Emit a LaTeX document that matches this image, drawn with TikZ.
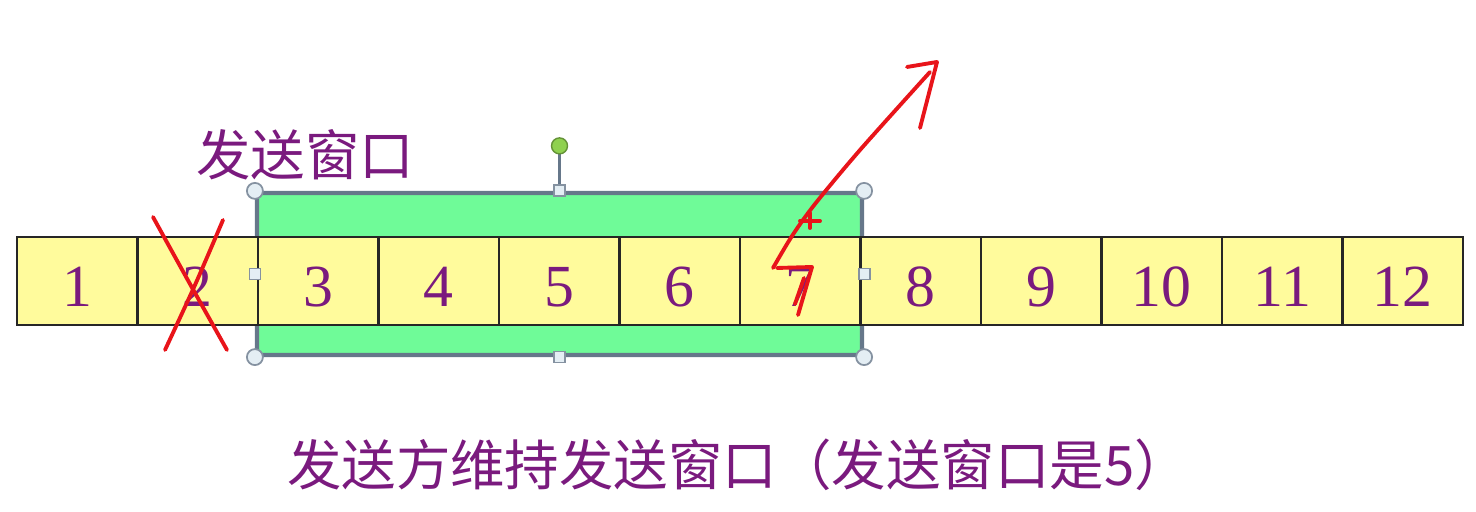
\documentclass[tikz,border=0pt]{standalone}
\usepackage{xcolor}
\usepackage{tikz}
\usepackage{fontspec}
\setmainfont{Liberation Serif}
\newfontfamily\cjk{Noto Sans CJK SC}
\definecolor{winpurple}{HTML}{7A1A7E}
\definecolor{cellyellow}{HTML}{FFFB9C}
\definecolor{wingreen}{HTML}{6FFB98}
\definecolor{winedge}{HTML}{66778A}
\definecolor{handlefill}{HTML}{E4EEF4}
\definecolor{rotgreen}{HTML}{8FD14F}
\definecolor{penred}{HTML}{E8141A}
\tikzset{
  cell/.style={draw=black!85,line width=0.6pt,fill=cellyellow,minimum width=1.205cm,
    minimum height=0.88cm,inner sep=0pt,text=winpurple,font=\fontsize{17}{20}\selectfont,
    text height=0.52cm,text depth=0cm},
  window/.style={draw=winedge,line width=1.2pt,fill=wingreen,rounded corners=1pt,
    minimum width=6.05cm,minimum height=1.62cm,inner sep=0pt},
  cornerhandle/.style={draw=winedge!80,fill=handlefill,line width=0.5pt},
  sidehandle/.style={draw=winedge!80,fill=handlefill,line width=0.5pt,minimum size=0.11cm,inner sep=0pt},
  pen/.style={penred,line width=1.1pt,line cap=round,line join=round},
  cjklabel/.style={text=winpurple,font=\cjk\fontsize{15.5}{18}\selectfont,inner sep=0pt}
}

\begin{document}
\begin{tikzpicture}[x=1cm,y=1cm]
  \useasboundingbox (0,0) rectangle (14.76,5.12);
  % send window behind the cells
  \node[window] (win) at (5.595,2.38) {};
  \foreach \i in {1,...,12}
    \node[cell] (c\i) at ({0.17+1.205*(\i-0.5)},2.31) {\i};
  % selection handles
  \coordinate (rot) at ([yshift=0.45cm]win.north);
  \draw[winedge,line width=0.6pt] (win.north) -- (rot);
  \fill[rotgreen,draw=rotgreen!70!black,line width=0.4pt] (rot) circle[radius=0.08cm];
  \foreach \a in {north west,north east,south west,south east}
    \draw[cornerhandle] (win.\a) circle[radius=0.08cm];
  \foreach \a/\n in {north/hn,south/hs,west/hw,east/he}
    \node[sidehandle] (\n) at (win.\a) {};
  % red pen marks
  \draw[pen] plot[smooth] coordinates {(1.53,2.95) (1.90,2.28) (2.27,1.62)};
  \draw[pen] plot[smooth] coordinates {(2.23,2.92) (1.95,2.27) (1.65,1.62)};
  \draw[pen] (7.77,2.44) -- (8.12,2.45) -- (7.98,1.97);
  \draw[pen] (8.04,2.34) -- (7.95,2.08);
  \draw[pen] plot[smooth] coordinates {(7.73,2.44) (7.92,2.76) (8.15,3.08) (8.60,3.62) (9.30,4.40)};
  \draw[pen] (9.07,4.45) -- (9.37,4.50) -- (9.20,3.84);
  \draw[pen] (8.00,2.91) -- (8.20,2.91);
  \draw[pen] (8.10,2.99) -- (8.10,2.84);
  % labels
  \node[cjklabel] (winlabel) at (3.05,3.57) {发送窗口};
  \node[cjklabel] (caption) at (7.38,0.47) {发送方维持发送窗口（发送窗口是5）};
\end{tikzpicture}
\end{document}
